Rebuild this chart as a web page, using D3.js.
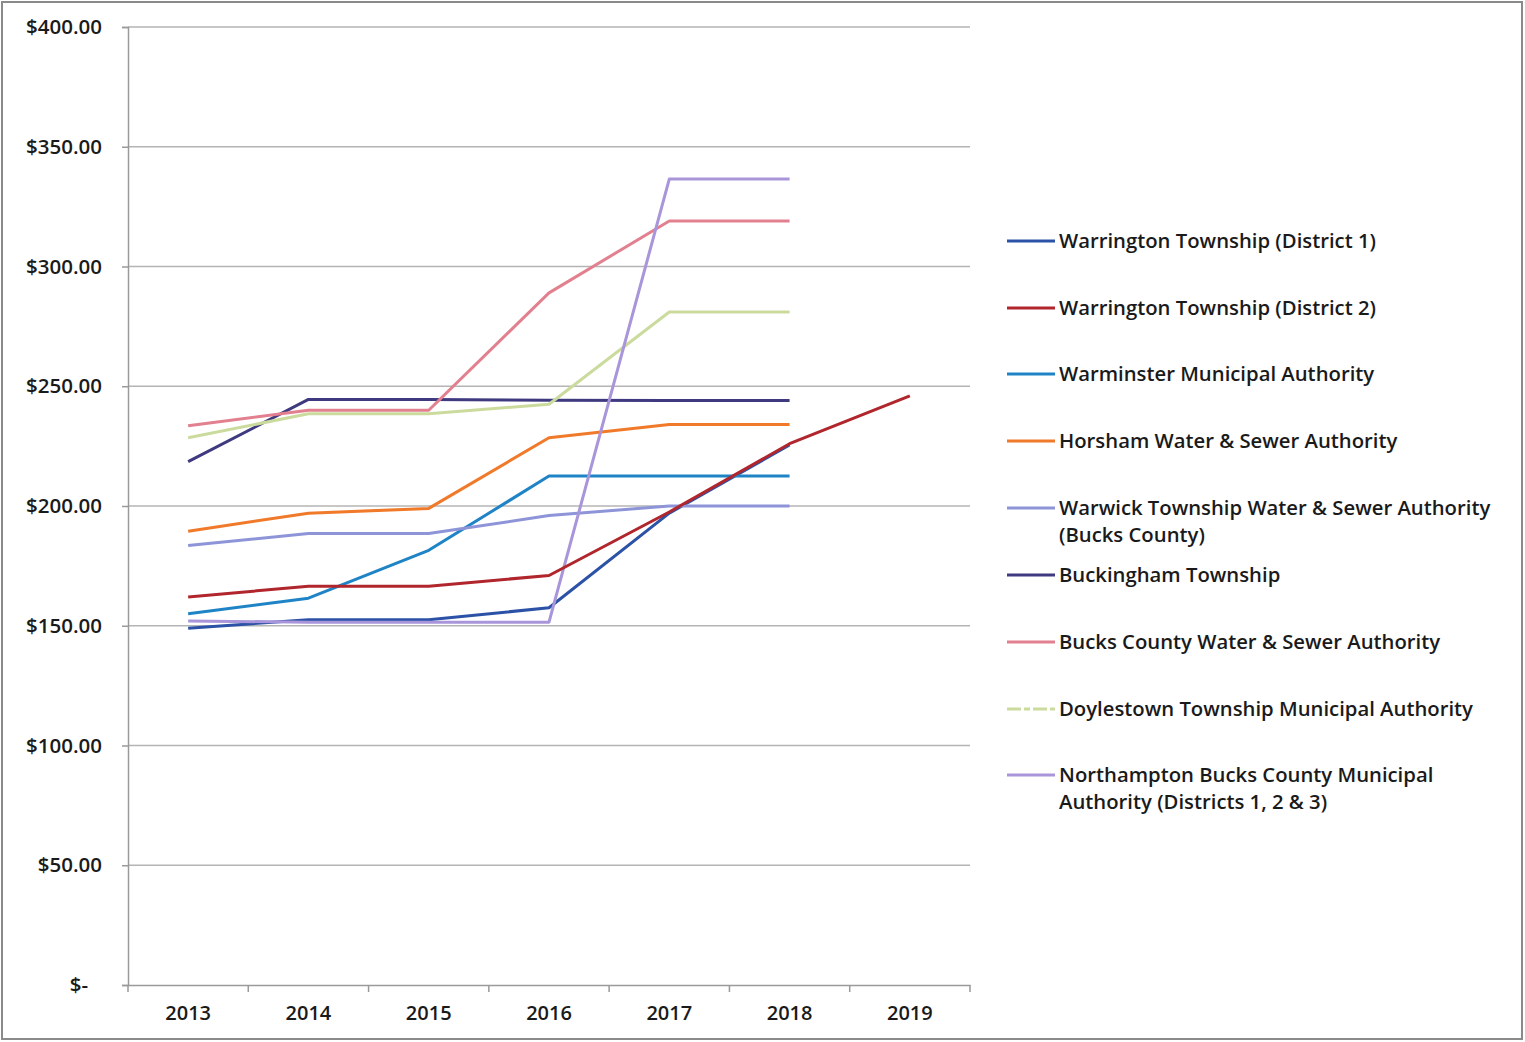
<!DOCTYPE html>
<html>
<head>
<meta charset="utf-8">
<script src="https://cdn.jsdelivr.net/npm/d3@7"></script>
<style>
  body { margin: 0; background: #fff; }
  svg { display: block; }
</style>
</head>
<body>
<svg id="chart" width="1525" height="1042"></svg>
<script>
// --- data ---
var years = ["2013", "2014", "2015", "2016", "2017", "2018", "2019"];
var yTicks = [0, 50, 100, 150, 200, 250, 300, 350, 400];

var seriesNames = [
  "Warrington Township (District 1)",
  "Warrington Township (District 2)",
  "Warminster Municipal Authority",
  "Horsham Water & Sewer Authority",
  "Warwick Township Water & Sewer Authority (Bucks County)",
  "Buckingham Township",
  "Bucks County Water & Sewer Authority",
  "Doylestown Township Municipal Authority",
  "Northampton Bucks County Municipal Authority (Districts 1, 2 & 3)"
];
var seriesColors = ["#2b52a6", "#b0262c", "#1f84c6", "#f07a2a", "#8e94d8", "#3f3a80", "#e2808f", "#cbdb9e", "#a895da"];

// values per year (null = no value)
var warrington1  = [149, 152.5, 152.5, 157.5, 197, 225.5, null];
var warrington2  = [162, 166.5, 166.5, 171, 197.5, 226, 246];
var warminster   = [155, 161.5, 181.5, 212.5, 212.5, 212.5, null];
var horsham      = [189.5, 197, 199, 228.5, 234, 234, null];
var warwick      = [183.5, 188.5, 188.5, 196, 200, 200, null];
var buckingham   = [218.5, 244.5, 244.5, 244.2, 244, 244, null];
var bucksCounty  = [233.5, 240, 240, 289, 319, 319, null];
var doylestown   = [228.5, 238.5, 238.5, 242.5, 281, 281, null];
var northampton  = [152, 151.5, 151.5, 151.5, 336.5, 336.5, null];

var seriesValues = [warrington1, warrington2, warminster, horsham, warwick, buckingham, bucksCounty, doylestown, northampton];
// draw order: district 2 last so its red shows over district 1
var drawOrder = [0, 2, 3, 4, 5, 6, 7, 8, 1];

// --- layout ---
var svg = d3.select("#chart");
var font = "'Open Sans', 'DejaVu Sans', sans-serif";

// outer frame
svg.append("rect")
  .attr("x", 2).attr("y", 2).attr("width", 1520).attr("height", 1037)
  .attr("fill", "#fff").attr("stroke", "#8a8a8a").attr("stroke-width", 2);

var plot = { left: 128, right: 970, top: 27, bottom: 985 };

var x = d3.scaleBand().domain(years).range([plot.left, plot.right]);
var y = d3.scaleLinear().domain([0, 400]).range([plot.bottom, plot.top]);

// gridlines
svg.append("g").selectAll("line")
  .data(yTicks.filter(function(d) { return d > 0; }))
  .enter().append("line")
  .attr("x1", plot.left).attr("x2", plot.right)
  .attr("y1", function(d) { return y(d); }).attr("y2", function(d) { return y(d); })
  .attr("stroke", "#b4b4b4").attr("stroke-width", 1.5);

// y axis
var yAxis = d3.axisLeft(y).tickValues(yTicks).tickSize(6).tickPadding(20)
  .tickFormat(function(d) { return d === 0 ? "$-" : "$" + d3.format(".2f")(d); });
var gy = svg.append("g").attr("transform", "translate(" + plot.left + ",0)").call(yAxis);
gy.select(".domain").attr("stroke", "#9a9a9a").attr("stroke-width", 1.5);
gy.selectAll(".tick line").attr("stroke", "#9a9a9a").attr("stroke-width", 1.5);
gy.selectAll(".tick text")
  .attr("font-family", font).attr("font-size", 20.5).attr("font-weight", 600).attr("fill", "#1a1a1a");
gy.selectAll(".tick text").filter(function(d) { return d === 0; }).attr("dx", -14);

// x axis
var xAxis = d3.axisBottom(x).tickSize(0).tickPadding(21);
var gx = svg.append("g").attr("transform", "translate(0," + plot.bottom + ")").call(xAxis);
gx.select(".domain").attr("stroke", "#9a9a9a").attr("stroke-width", 1.5);
gx.selectAll(".tick text")
  .attr("font-family", font).attr("font-size", 20).attr("font-weight", 600).attr("fill", "#1a1a1a");
// boundary ticks between categories
gx.append("g").selectAll("line")
  .data(years.concat(["end"]))
  .enter().append("line")
  .attr("x1", function(d, i) { return plot.left + i * x.bandwidth(); })
  .attr("x2", function(d, i) { return plot.left + i * x.bandwidth(); })
  .attr("y1", 0).attr("y2", 7)
  .attr("stroke", "#9a9a9a").attr("stroke-width", 1.5);

// lines
var line = d3.line()
  .defined(function(d) { return d.v !== null; })
  .x(function(d) { return x(d.year) + x.bandwidth() / 2; })
  .y(function(d) { return y(d.v); });

drawOrder.forEach(function(i) {
  var pts = years.map(function(yr, k) { return { year: yr, v: seriesValues[i][k] }; });
  svg.append("path")
    .datum(pts)
    .attr("d", line)
    .attr("fill", "none")
    .attr("stroke", seriesColors[i])
    .attr("stroke-width", 3)
    .attr("stroke-linejoin", "round");
});

// legend
var legendRows = [
  { idx: 0, y: 241, lines: ["Warrington Township (District 1)"] },
  { idx: 1, y: 308, lines: ["Warrington Township (District 2)"] },
  { idx: 2, y: 374, lines: ["Warminster Municipal Authority"] },
  { idx: 3, y: 441, lines: ["Horsham Water & Sewer Authority"] },
  { idx: 4, y: 508, lines: ["Warwick Township Water & Sewer Authority", "(Bucks County)"] },
  { idx: 5, y: 575, lines: ["Buckingham Township"] },
  { idx: 6, y: 642, lines: ["Bucks County Water & Sewer Authority"] },
  { idx: 7, y: 709, lines: ["Doylestown Township Municipal Authority"] },
  { idx: 8, y: 775, lines: ["Northampton Bucks County Municipal", "Authority (Districts 1, 2 & 3)"] }
];

var lg = svg.append("g").attr("class", "legend");
legendRows.forEach(function(r) {
  lg.append("line")
    .attr("x1", 1007).attr("x2", 1055)
    .attr("y1", r.y).attr("y2", r.y)
    .attr("stroke", seriesColors[r.idx])
    .attr("stroke-width", 3)
    .attr("stroke-dasharray", r.idx === 7 ? "14,3,6,3" : null);
  var t = lg.append("text")
    .attr("x", 1059).attr("y", r.y)
    .attr("font-family", font).attr("font-size", 20.3).attr("font-weight", 600)
    .attr("fill", "#1a1a1a");
  r.lines.forEach(function(s, k) {
    t.append("tspan").attr("x", 1059).attr("dy", k === 0 ? "0.35em" : 27).text(s);
  });
});
</script>
</body>
</html>
